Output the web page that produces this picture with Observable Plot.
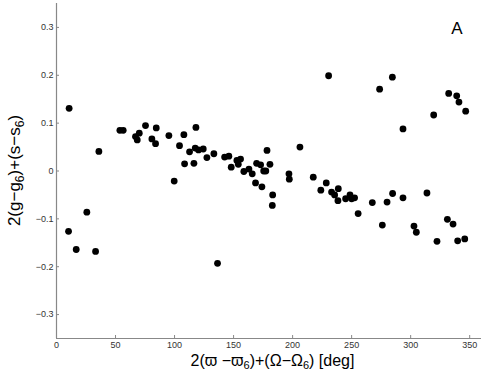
<!DOCTYPE html>
<html>
<head>
<meta charset="utf-8">
<script src="https://cdn.jsdelivr.net/npm/d3@7"></script>
<script src="https://cdn.jsdelivr.net/npm/@observablehq/plot@0.6"></script>
<style>
  html, body { margin: 0; padding: 0; background: #fff; }
  #chart svg { display: block; }
</style>
</head>
<body>
<div id="chart"></div>
<script>
// angle 2(ϖ−ϖ6)+(Ω−Ω6) in degrees
const angle = [10.2, 10.7, 16.7, 25.7, 33.1, 35.9, 53.7, 56.5, 66.9, 68.4,
  70.1, 75.4, 80.8, 84.5, 83.9, 95.2, 99.7, 104.2, 107.9, 108.5,
  112.7, 116.4, 118.1, 117.5, 120.3, 124.3, 127.4, 133.3, 136.4, 142.4,
  146.0, 148.0, 152.8, 154.0, 155.9, 158.7, 163.0, 165.8, 168.6, 169.5,
  172.9, 174.0, 175.5, 177.3, 178.3, 180.8, 183.1, 182.8, 196.9, 197.2,
  206.2, 217.5, 223.9, 228.5, 230.5, 233.0, 235.6, 238.7, 238.4, 244.9,
  248.6, 250.0, 252.5, 255.5, 267.5, 273.7, 276.0, 280.0, 284.5, 284.7,
  293.5, 293.5, 302.8, 304.8, 313.8, 319.5, 322.3, 331.1, 332.2, 335.9,
  339.0, 339.8, 340.9, 345.8, 346.6];
// value 2(g−g6)+(s−s6)
const value = [-0.126, 0.131, -0.164, -0.086, -0.168, 0.041, 0.085, 0.085, 0.072, 0.065,
  0.079, 0.095, 0.067, 0.090, 0.057, 0.074, -0.021, 0.053, 0.076, 0.015,
  0.040, 0.016, 0.091, 0.048, 0.044, 0.046, 0.028, 0.036, -0.193, 0.029,
  0.031, 0.008, 0.022, 0.014, 0.025, -0.001, 0.004, -0.006, -0.025, 0.016,
  0.013, -0.033, 0.000, 0.000, 0.043, 0.014, -0.050, -0.072, -0.006, -0.017,
  0.050, -0.013, -0.040, -0.025, 0.199, -0.044, -0.050, -0.037, -0.062, -0.058,
  -0.050, -0.058, -0.056, -0.089, -0.066, 0.171, -0.113, -0.065, 0.196, -0.047,
  0.088, -0.056, -0.115, -0.128, -0.046, 0.117, -0.147, -0.101, 0.162, -0.111,
  0.157, -0.146, 0.144, -0.142, 0.125];
const xTicks = [0, 50, 100, 150, 200, 250, 300, 350];
const yTicks = [-0.3, -0.2, -0.1, 0, 0.1, 0.2, 0.3];

const data = angle.map((a, i) => ({a, v: value[i]}));

const W = 485, H = 376, mL = 56, mR = 4, mT = 3, mB = 38;
const font = "'Liberation Sans', Arial, Helvetica, sans-serif";
const fmtY = d => d === 0 ? "0" : (d < 0 ? "\u2212" : "") + Math.abs(d).toFixed(1);

const plot = Plot.plot({
  width: W, height: H,
  marginLeft: mL, marginRight: mR, marginTop: mT, marginBottom: mB,
  style: {fontFamily: font, background: "#fff", overflow: "visible"},
  x: {domain: [0, 360]},
  y: {domain: [-0.35, 0.35]},
  marks: [
    Plot.ruleX([0], {stroke: "#888", strokeWidth: 1.2}),
    Plot.ruleY([-0.35], {stroke: "#888", strokeWidth: 1.2}),
    Plot.axisX({ticks: xTicks, tickSize: -3, tickPadding: 6, stroke: "#888", fill: "#333", fontSize: 9, label: null, tickFormat: d => String(d)}),
    Plot.axisY({ticks: yTicks, tickSize: -3, tickPadding: 6, stroke: "#888", fill: "#333", fontSize: 9, label: null, tickFormat: fmtY}),
    Plot.dot(data, {x: "a", y: "v", r: 3.4, fill: "#000", stroke: "none"})
  ]
});

const svg = d3.select(plot);
// x-axis label
const xl = svg.append("text")
  .attr("x", (mL + W - mR) / 2 + 4).attr("y", 366)
  .attr("text-anchor", "middle")
  .style("font-family", font).style("font-size", "16px").attr("fill", "#000");
xl.append("tspan").text("2(\u03D6 \u2212\u03D6");
xl.append("tspan").attr("baseline-shift", "-30%").style("font-size", "11px").text("6");
xl.append("tspan").text(")+(\u03A9\u2212\u03A9");
xl.append("tspan").attr("baseline-shift", "-30%").style("font-size", "11px").text("6");
xl.append("tspan").text(") [deg]");

// y-axis label
const cy = (mT + H - mB) / 2;
const yl = svg.append("text")
  .attr("transform", `translate(20,${cy}) rotate(-90)`)
  .attr("text-anchor", "middle")
  .style("font-family", font).style("font-size", "17px").attr("fill", "#000");
yl.append("tspan").text("2(g\u2212g");
yl.append("tspan").attr("baseline-shift", "-35%").style("font-size", "12px").text("6");
yl.append("tspan").text(")+(s\u2212s");
yl.append("tspan").attr("baseline-shift", "-35%").style("font-size", "12px").text("6");
yl.append("tspan").text(")");

// panel letter
svg.append("text")
  .attr("x", 457).attr("y", 34)
  .attr("text-anchor", "middle")
  .style("font-family", font).style("font-size", "17px").attr("fill", "#000")
  .text("A");

document.getElementById("chart").appendChild(plot);
</script>
</body>
</html>
